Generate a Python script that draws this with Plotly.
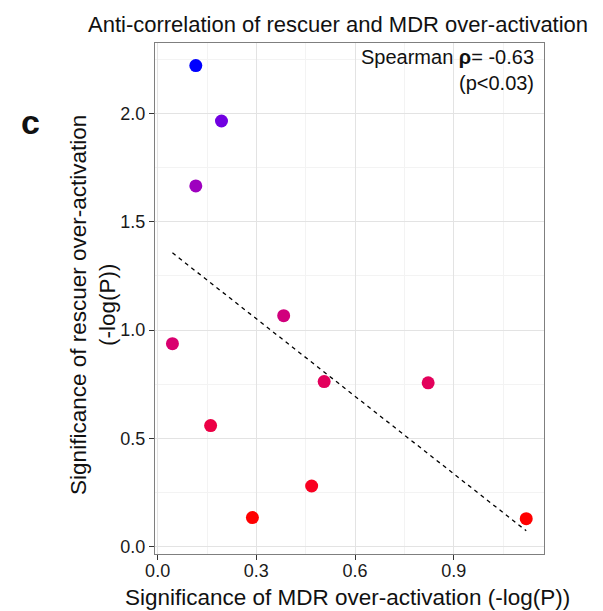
import numpy as np
import plotly.graph_objects as go

# Data
mdr_x = [0.116, 0.194, 0.116, 0.383, 0.045, 0.506, 0.822, 0.161, 0.468, 0.288, 1.120]
rescuer_y = [2.221, 1.965, 1.665, 1.066, 0.937, 0.762, 0.756, 0.559, 0.280, 0.134, 0.129]
x_ticks = [0.0, 0.3, 0.6, 0.9]
x_tick_text = ["0.0", "0.3", "0.6", "0.9"]
y_ticks = [0.0, 0.5, 1.0, 1.5, 2.0]
y_tick_text = ["0.0", "0.5", "1.0", "1.5", "2.0"]

FONT = "Liberation Sans, Arial, Helvetica, sans-serif"


# Lab-interpolated red->blue colour scale (like ggplot's gradient)
def _srgb_to_lin(c):
    c = c / 255.0
    return np.where(c <= 0.04045, c / 12.92, ((c + 0.055) / 1.055) ** 2.4)


def _lin_to_srgb(c):
    c = np.clip(c, 0, 1)
    return 255 * np.where(c <= 0.0031308, 12.92 * c, 1.055 * c ** (1 / 2.4) - 0.055)


M = np.array([[0.4124, 0.3576, 0.1805], [0.2126, 0.7152, 0.0722], [0.0193, 0.1192, 0.9505]])
WHITE = M @ np.ones(3)


def _f(t):
    d = 6 / 29
    return np.where(t > d ** 3, np.cbrt(t), t / (3 * d * d) + 4 / 29)


def _finv(t):
    d = 6 / 29
    return np.where(t > d, t ** 3, 3 * d * d * (t - 4 / 29))


def rgb_to_lab(rgb):
    xyz = M @ _srgb_to_lin(np.array(rgb, float)) / WHITE
    fx, fy, fz = _f(xyz)
    return np.array([116 * fy - 16, 500 * (fx - fy), 200 * (fy - fz)])


def lab_to_rgb(lab):
    L, a, b = lab
    fy = (L + 16) / 116
    fx = fy + a / 500
    fz = fy - b / 200
    xyz = _finv(np.array([fx, fy, fz])) * WHITE
    return _lin_to_srgb(np.linalg.solve(M, xyz))


lo, hi = rgb_to_lab([255, 0, 0]), rgb_to_lab([0, 0, 255])
colorscale = []
for t in np.linspace(0, 1, 21):
    r, g, b = lab_to_rgb(lo + (hi - lo) * t)
    colorscale.append([float(t), f"rgb({int(round(r))},{int(round(g))},{int(round(b))})"])

# Linear fit (dashed trend line)
slope, intercept = np.polyfit(mdr_x, rescuer_y, 1)
fx = np.array([min(mdr_x), max(mdr_x)])
fy = slope * fx + intercept

fig = go.Figure()
fig.add_trace(go.Scatter(
    x=fx, y=fy, mode="lines",
    line=dict(color="black", width=1.3, dash="4px,4px"),
    showlegend=False, hoverinfo="skip",
))
fig.add_trace(go.Scatter(
    x=mdr_x, y=rescuer_y, mode="markers",
    marker=dict(size=13, color=rescuer_y, colorscale=colorscale,
                cmin=min(rescuer_y), cmax=max(rescuer_y), line=dict(width=0)),
    showlegend=False,
))

axis_common = dict(
    showline=True, linecolor="#7f7f7f", linewidth=1, mirror=True,
    ticks="outside", ticklen=5, tickcolor="#333333", tickwidth=1,
    gridcolor="#e3e3e3", gridwidth=1, zeroline=False, automargin=False,
    tickfont=dict(family=FONT, size=18, color="#1a1a1a"),
)

fig.update_layout(
    width=603, height=611,
    margin=dict(l=155, r=59, t=43, b=57),
    paper_bgcolor="white", plot_bgcolor="white",
    font=dict(family=FONT, color="#111111"),
    xaxis=dict(
        range=[-0.008, 1.174], tickvals=x_ticks, ticktext=x_tick_text,
        minor=dict(dtick=0.15, tick0=0, showgrid=True, gridcolor="#f3f3f3", ticks=""),
        ticklabelstandoff=-5,
        **axis_common,
    ),
    yaxis=dict(
        range=[-0.034, 2.325], tickvals=y_ticks, ticktext=y_tick_text,
        minor=dict(dtick=0.25, tick0=0, showgrid=True, gridcolor="#f3f3f3", ticks=""),
        **axis_common,
    ),
    annotations=[
        dict(text="Anti-correlation of rescuer and MDR over-activation",
             xref="paper", yref="paper", x=0.47, y=1.037, xanchor="center", yanchor="middle",
             showarrow=False, font=dict(family=FONT, size=22, color="#111111")),
        dict(text="Spearman <b>ρ</b>= -0.63<br>(p&lt;0.03)",
             xref="paper", yref="paper", x=0.979, y=0.998, xanchor="right", yanchor="top",
             align="right", showarrow=False, font=dict(family=FONT, size=20, color="#111111")),
        dict(text="Significance of MDR over-activation (-log(P))",
             xref="paper", yref="paper", x=0.495, y=-0.086, xanchor="center", yanchor="middle",
             showarrow=False, font=dict(family=FONT, size=22.5, color="#111111")),
        dict(text="Significance of rescuer over-activation<br>(-log(P))",
             xref="paper", yref="paper", x=-0.16, y=0.487, xanchor="center", yanchor="middle",
             textangle=-90, showarrow=False, font=dict(family=FONT, size=22.5, color="#111111")),
        dict(text="<b>c</b>", xref="paper", yref="paper", x=-0.32, y=0.845,
             xanchor="center", yanchor="middle", showarrow=False,
             font=dict(family=FONT, size=34, color="#111111")),
    ],
)

fig.write_html("out.html")
